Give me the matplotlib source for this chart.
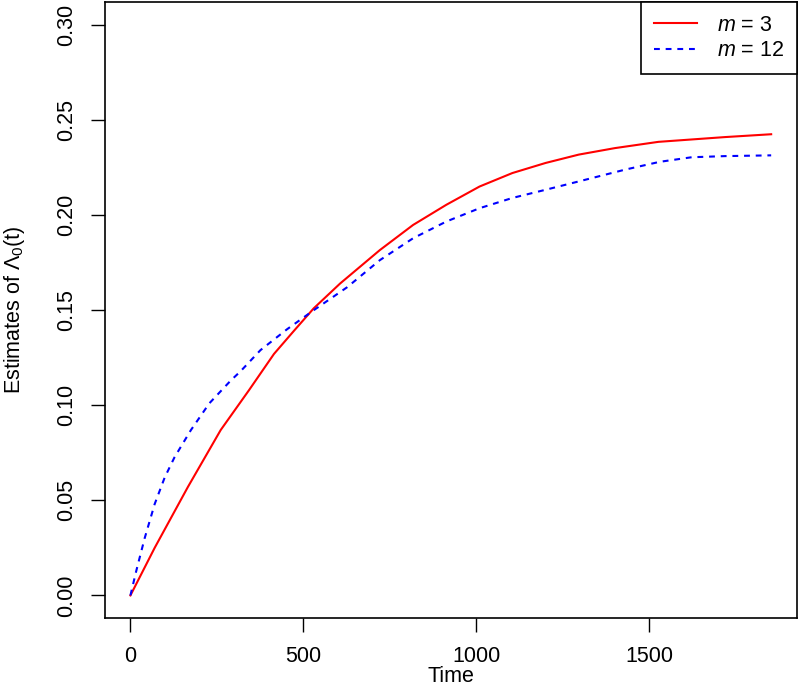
import matplotlib
matplotlib.use("Agg")
import matplotlib.pyplot as plt

# values
t_m3 = [0, 70, 166, 261, 343, 415, 472, 530, 606, 721, 817, 913, 1009, 1104,
        1200, 1296, 1400, 1526, 1718, 1852]
est_m3 = [0, 0.025, 0.057, 0.087, 0.108, 0.127, 0.139, 0.151, 0.164, 0.1816,
          0.1948, 0.2054, 0.215, 0.2221, 0.2274, 0.2318, 0.2352, 0.2385, 0.241, 0.2425]

t_m12 = [0, 17, 41, 70, 99, 127, 175, 228, 290, 319, 376, 453, 530, 626, 721,
         817, 913, 1009, 1104, 1200, 1296, 1430, 1530, 1622, 1718, 1852]
est_m12 = [0, 0.013, 0.030, 0.048, 0.062, 0.0725, 0.087, 0.101, 0.113, 0.118,
           0.129, 0.140, 0.150, 0.162, 0.1763, 0.1878, 0.1966, 0.2036, 0.209,
           0.2133, 0.2177, 0.2239, 0.228, 0.2304, 0.2310, 0.2314]

x_ticks = [0, 500, 1000, 1500]
y_ticks = [0.00, 0.05, 0.10, 0.15, 0.20, 0.25, 0.30]

plt.rcParams['font.family'] = ['Liberation Sans', 'DejaVu Sans']
plt.rcParams['mathtext.fontset'] = 'custom'
plt.rcParams['mathtext.rm'] = 'Liberation Sans'
plt.rcParams['mathtext.it'] = 'Liberation Sans:italic'
plt.rcParams['font.size'] = 15.5

fig = plt.figure(figsize=(8, 6.9), dpi=100)
ax = fig.add_axes([0.131, 0.104, 0.865, 0.893])

ax.plot(t_m3, est_m3, color='red', lw=1.5, label='$m$ = 3')
ax.plot(t_m12, est_m12, color='blue', lw=1.5, dashes=(2.8, 2.8), label='$m$ = 12')

# R-style 4% padding around the data range
xmax = max(t_m3)
ax.set_xlim(-0.04 * xmax, 1.04 * xmax)
ax.set_ylim(-0.012, 0.312)

ax.set_xticks(x_ticks)
ax.set_xticklabels([str(v) for v in x_ticks])
ax.set_yticks(y_ticks)
ax.set_yticklabels(['%.2f' % v for v in y_ticks], rotation=90, va='center')
ax.tick_params(axis='x', length=10, width=1, pad=10)
ax.tick_params(axis='y', length=10, width=1, pad=10)
for s in ax.spines.values():
    s.set_linewidth(1.2)

ax.set_xlabel('Time', labelpad=-1)
ax.set_ylabel(r'Estimates of $\Lambda_0$(t)', labelpad=21)

leg = ax.legend(loc='upper right', borderaxespad=0, fancybox=False,
                edgecolor='black', framealpha=1, handlelength=2.0,
                handletextpad=0.9, borderpad=0.6, labelspacing=0.2)
leg.get_frame().set_linewidth(1.2)

fig.savefig('out.png', dpi=100)
